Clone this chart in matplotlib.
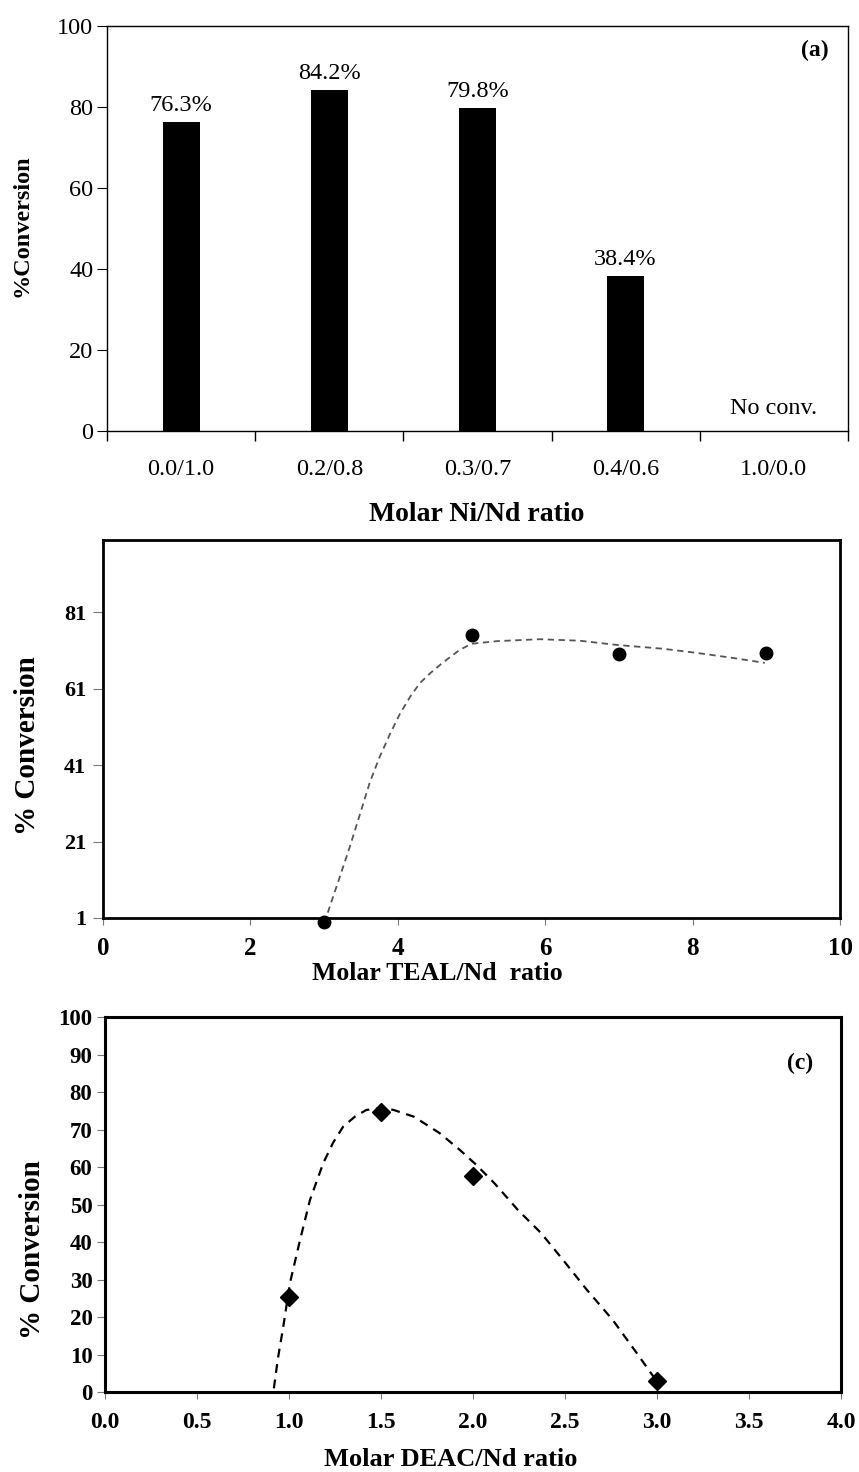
import matplotlib
matplotlib.use("Agg")
import matplotlib.pyplot as plt
import numpy as np

plt.rcParams['font.family'] = ['Liberation Serif', 'DejaVu Serif']

# (a) conversion vs Ni/Nd ratio
ratios = ['0.0/1.0', '0.2/0.8', '0.3/0.7', '0.4/0.6', '1.0/0.0']
conv_a = [76.3, 84.2, 79.8, 38.4, 0.0]
bar_labels = ['76.3%', '84.2%', '79.8%', '38.4%', 'No conv.']

# (b) conversion vs TEAL/Nd ratio
teal = [3, 5, 7, 9]
conv_b = [0.0, 75.0, 70.0, 70.4]
teal_fit_x = [3.05, 3.2, 3.35, 3.5, 3.62, 3.75, 3.89, 4.03, 4.17, 4.3, 4.44, 4.6, 4.84,
              5.0, 5.35, 5.93, 6.47, 6.97, 7.6, 8.06, 8.51, 8.98]
teal_fit_y = [2.4, 11.0, 19.7, 29.0, 36.5, 43.0, 49.0, 54.5, 59.0, 62.5, 65.1, 67.7, 71.2,
              72.8, 73.5, 74.0, 73.6, 72.5, 71.5, 70.4, 69.2, 67.8]

# (c) conversion vs DEAC/Nd ratio
deac = [1.0, 1.5, 2.0, 3.0]
conv_c = [25.4, 74.8, 57.7, 2.9]
deac_fit_x = [0.918, 0.94, 0.969, 1.005, 1.06, 1.114, 1.186, 1.24, 1.295, 1.36, 1.42, 1.51,
              1.57, 1.68, 1.82, 1.93, 2.02, 2.12, 2.245, 2.37, 2.49, 2.62, 2.76, 2.89, 3.02]
deac_fit_y = [1.0, 9.0, 17.4, 29.0, 40.5, 51.2, 61.0, 66.5, 70.8, 73.5, 75.2, 75.8,
              75.2, 73.4, 69.0, 64.5, 60.5, 55.5, 48.5, 42.4, 35.2, 27.2, 19.2, 10.4, 1.4]

fig = plt.figure(figsize=(8.59, 14.72), dpi=100)

# ---------- (a) ----------
ax1 = fig.add_axes([0.1246, 0.7072, 0.8624, 0.2751])
pos = np.arange(len(ratios))
ax1.bar(pos, conv_a, width=0.25, color='black')
for p, v, lab in zip(pos, conv_a, bar_labels):
    if v > 0:
        ax1.annotate(lab, (p, v), xytext=(0, 4), textcoords='offset points',
                     ha='center', va='bottom', fontsize=17.5)
    else:
        ax1.annotate(lab, (p, v), xytext=(0, 9), textcoords='offset points',
                     ha='center', va='bottom', fontsize=17.5)
ax1.text(0.974, 0.94, '(a)', transform=ax1.transAxes, ha='right', va='center',
         fontsize=17, fontweight='bold')
ax1.set_xlim(-0.5, 4.5)
ax1.set_ylim(0, 100)
ax1.set_yticks([0, 20, 40, 60, 80, 100])
ax1.set_xticks(pos)
ax1.set_xticklabels(ratios)
ax1.set_xticks(np.arange(-0.5, 5.0, 1.0), minor=True)
ax1.tick_params(axis='x', which='major', length=0, pad=20, labelsize=17.5)
ax1.tick_params(axis='x', which='minor', length=7, direction='out', width=1)
ax1.tick_params(axis='y', length=7, direction='out', labelsize=17.5, pad=3)
for s in ax1.spines.values():
    s.set_linewidth(1.0)
ax1.set_ylabel('%Conversion', fontsize=17.5, fontweight='bold')
ax1.yaxis.label.set_va('center')
ax1.yaxis.set_label_coords(-0.115, 0.506)
ax1.set_xlabel('Molar Ni/Nd ratio', fontsize=20, fontweight='bold')
ax1.xaxis.label.set_va('center')
ax1.xaxis.set_label_coords(0.499, -0.207)

# ---------- (b) ----------
ax2 = fig.add_axes([0.1199, 0.3764, 0.8580, 0.2568])
ax2.plot(teal_fit_x, teal_fit_y, linestyle=(0, (3.5, 2.5)), color='#555555', lw=1.3)
ax2.plot(teal, conv_b, 'o', color='black', markersize=9, clip_on=False, zorder=5)
ax2.set_xlim(0, 10)
ax2.set_ylim(1, 100)
ax2.set_xticks([0, 2, 4, 6, 8, 10])
ax2.set_yticks([1, 21, 41, 61, 81])
ax2.tick_params(axis='x', length=5, direction='out', labelsize=18, pad=9, color='#777777')
ax2.tick_params(axis='y', length=7, direction='out', labelsize=16, pad=5, color='#777777')
for lab in ax2.get_xticklabels() + ax2.get_yticklabels():
    lab.set_fontweight('bold')
for s in ax2.spines.values():
    s.set_linewidth(2.0)
ax2.set_ylabel('% Conversion', fontsize=21, fontweight='bold')
ax2.yaxis.label.set_va('center')
ax2.yaxis.set_label_coords(-0.102, 0.456)
ax2.set_xlabel('Molar TEAL/Nd  ratio', fontsize=18.5, fontweight='bold')
ax2.xaxis.label.set_va('center')
ax2.xaxis.set_label_coords(0.453, -0.148)

# ---------- (c) ----------
ax3 = fig.add_axes([0.1222, 0.0543, 0.8568, 0.2548])
ax3.plot(deac_fit_x, deac_fit_y, linestyle=(0, (4, 3)), color='black', lw=1.6)
ax3.plot(deac, conv_c, 'D', color='black', markersize=9, zorder=5)
ax3.text(0.944, 0.875, '(c)', transform=ax3.transAxes, ha='center', va='center',
         fontsize=17, fontweight='bold')
ax3.set_xlim(0, 4)
ax3.set_ylim(0, 100)
ax3.set_xticks(np.arange(0, 4.01, 0.5))
ax3.set_xticklabels(['%.1f' % v for v in np.arange(0, 4.01, 0.5)])
ax3.set_yticks(np.arange(0, 101, 10))
ax3.tick_params(axis='x', length=5, direction='out', labelsize=17, pad=9, color='#777777')
ax3.tick_params(axis='y', length=6, direction='out', labelsize=16.5, pad=3, color='#777777')
for lab in ax3.get_xticklabels() + ax3.get_yticklabels():
    lab.set_fontweight('bold')
for s in ax3.spines.values():
    s.set_linewidth(2.2)
ax3.set_ylabel('% Conversion', fontsize=21, fontweight='bold')
ax3.yaxis.label.set_va('center')
ax3.yaxis.set_label_coords(-0.098, 0.379)
ax3.set_xlabel('Molar DEAC/Nd ratio', fontsize=19, fontweight='bold')
ax3.xaxis.label.set_va('center')
ax3.xaxis.set_label_coords(0.470, -0.181)

fig.savefig('out.png', dpi=100)
